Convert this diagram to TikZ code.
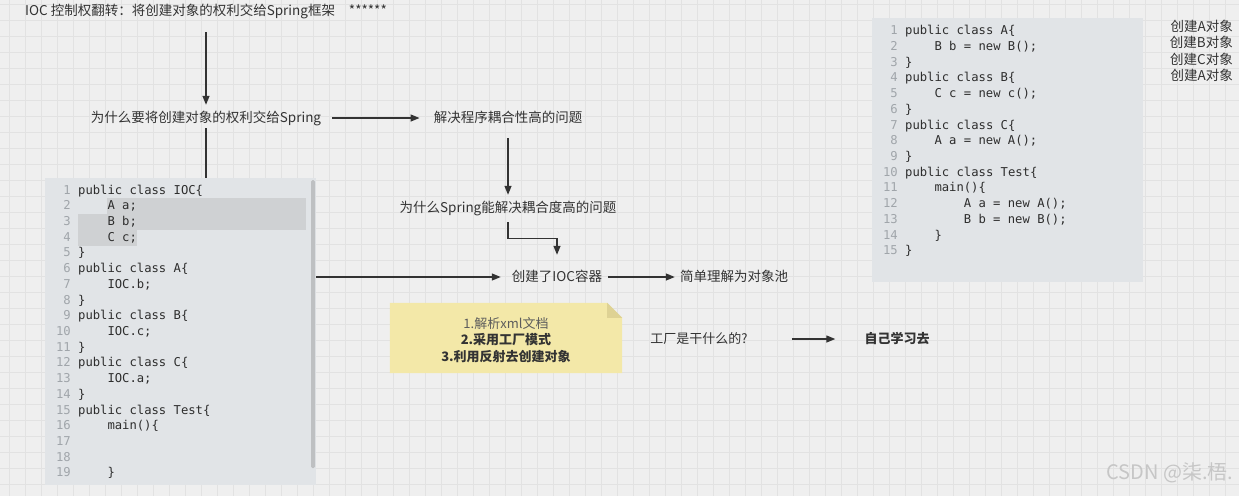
\documentclass[tikz,border=0pt]{standalone}
\usepackage{fontspec}
\setmainfont{Noto Sans CJK SC}
\newfontfamily\codefont{DejaVu Sans Mono}
\usetikzlibrary{arrows.meta,calc,positioning}
\definecolor{paper}{RGB}{239,239,239}
\definecolor{gridc}{RGB}{226,226,226}
\definecolor{ink}{RGB}{51,51,51}
\definecolor{codebg}{RGB}{225,228,231}
\definecolor{marked}{RGB}{207,209,211}
\definecolor{scrollc}{RGB}{190,192,194}
\definecolor{codeink}{RGB}{45,45,45}
\definecolor{numink}{RGB}{160,165,170}
\definecolor{notebg}{RGB}{243,232,168}
\definecolor{notefold}{RGB}{222,210,148}
\tikzset{%
        arr/.style = {-{Triangle[length=9pt,width=7pt]}, line width=1.3pt, draw=ink},
        link/.style = {line width=1.3pt, draw=ink},
        label/.style = {font=\fontsize{13.5}{16}\selectfont, text=ink,
                        inner xsep=8pt, inner ysep=3pt, text height=11pt, text depth=3pt},
        codebox/.style = {fill=codebg, inner sep=0pt, anchor=north west},
        codeline/.style = {font=\codefont\fontsize{12.2}{15}\selectfont, text=codeink,
                           inner sep=0pt, text height=9pt, text depth=3pt, anchor=west},
        lineno/.style = {codeline, text=numink, anchor=east}
}

\begin{document}
\begin{tikzpicture}[x=1pt, y=-1pt]
            % paper and grid
            \fill[paper] (0,0) rectangle (1239,496);
            \useasboundingbox (0,0) rectangle (1239,496);
            \foreach \gx in {9,25,...,1239}
                \draw[gridc, line width=0.6pt] (\gx,0) -- (\gx,496);
            \foreach \gy in {4,20,...,496}
                \draw[gridc, line width=0.6pt] (0,\gy) -- (1239,\gy);

            % left code box
            \node[codebox, minimum width=271pt, minimum height=307pt] (ioc) at (45,178) {};
            \fill[marked] (107,198) rectangle (306,214);
            \fill[marked] (78,214) rectangle (306,230);
            \fill[marked] (78,230) rectangle (137,246);
            \fill[scrollc, rounded corners=1.5pt] (311,180) rectangle (315,468);
            \foreach \n/\ind/\txt in {1/0/public class IOC\{, 2/1/A a;, 3/1/B b;, 4/1/C c;, 5/0/\},
                6/0/public class A\{, 7/1/IOC.b;, 8/0/\}, 9/0/public class B\{, 10/1/IOC.c;,
                11/0/\}, 12/0/public class C\{, 13/1/IOC.a;, 14/0/\}, 15/0/public class Test\{,
                16/1/main()\{, 17/0/{}, 18/0/{}, 19/1/\}}
            {
                \node[lineno] (iocn\n) at (71, 191+15.72*\n-15.72) {\n};
                \node[codeline] (iocl\n) at (78+29.3*\ind, 191+15.72*\n-15.72) {\txt};
            }

            % right code box
            \node[codebox, minimum width=271pt, minimum height=264pt] (abc) at (872,18) {};
            \foreach \n/\ind/\txt in {1/0/public class A\{, 2/1/B b = new B();, 3/0/\},
                4/0/public class B\{, 5/1/C c = new c();, 6/0/\}, 7/0/public class C\{,
                8/1/A a = new A();, 9/0/\}, 10/0/public class Test\{, 11/1/main()\{,
                12/2/A a = new A();, 13/2/B b = new B();, 14/1/\}, 15/0/\}}
            {
                \node[lineno] (abcn\n) at (898, 31.7+15.72*\n-15.72) {\n};
                \node[codeline] (abcl\n) at (905+29.3*\ind, 31.7+15.72*\n-15.72) {\txt};
            }
            \foreach \n/\c in {1/A, 2/B, 3/C, 4/A}
                \node[label, anchor=east, inner xsep=0pt] (make\n) at (1233, 27+16.6*\n-16.6) {创建\c 对象};

            % labels
            \node[label] (title) at (206,11) {IOC 控制权翻转：将创建对象的权利交给Spring框架\hspace{14pt}******};
            \node[label] (why) at (206,118) {为什么要将创建对象的权利交给Spring};
            \node[label] (solve) at (508,118) {解决程序耦合性高的问题};
            \node[label] (whyspring) at (508,208) {为什么Spring能解决耦合度高的问题};
            \node[label] (container) at (557,277) {创建了IOC容器};
            \node[label] (pool) at (734,277) {简单理解为对象池};
            \node[label, font=\fontsize{13}{16}\selectfont] (factory) at (699,339) {工厂是干什么的?};
            \node[label, font=\fontsize{13}{16}\selectfont\bfseries] (self) at (897,339) {自己学习去};

            % note
            \node[minimum width=232pt, minimum height=70pt, inner sep=0pt] (note) at (506,338) {};
            \fill[notebg] (note.north west) -- ([xshift=-15pt]note.north east)
                -- ([yshift=-15pt]note.north east) -- (note.south east) -- (note.south west) -- cycle;
            \fill[notefold] ([xshift=-15pt]note.north east) -- ([xshift=-15pt,yshift=-15pt]note.north east)
                -- ([yshift=-15pt]note.north east) -- cycle;
            \node[align=center, font=\fontsize{13}{16.5}\selectfont, text=ink] (steps) at (506,340)
                {\textcolor{ink!80}{1.解析xml文档}\\ \textbf{2.采用工厂模式}\\ \textbf{3.利用反射去创建对象}};

            % connectors
            \draw[arr, shorten <=11pt, shorten >=3pt] (title.south) -- (why.north);
            \draw[arr, shorten <=3pt, shorten >=6pt] (why.east) -- (solve.west);
            \draw[link] (why.south) -- (why.south |- ioc.north);
            \draw[arr, shorten <=10pt, shorten >=3pt] (solve.south) -- (whyspring.north);
            \draw[arr, shorten <=4pt, shorten >=12pt] (whyspring.south) -- ++(0,20) -| (container.north);
            \draw[arr, shorten >=3pt] (ioc.east |- container.west) -- (container.west);
            \draw[arr, shorten <=-2pt, shorten >=-3pt] (container.east) -- (pool.west);
            \draw[arr, shorten <=36pt, shorten >=21pt] (factory.east) -- (self.west);

            % watermark
            \node[font=\fontsize{20}{24}\selectfont, text=gray!45, anchor=east] (mark) at (1237,473) {CSDN @柒.梧.};
        \end{tikzpicture}
\end{document}
